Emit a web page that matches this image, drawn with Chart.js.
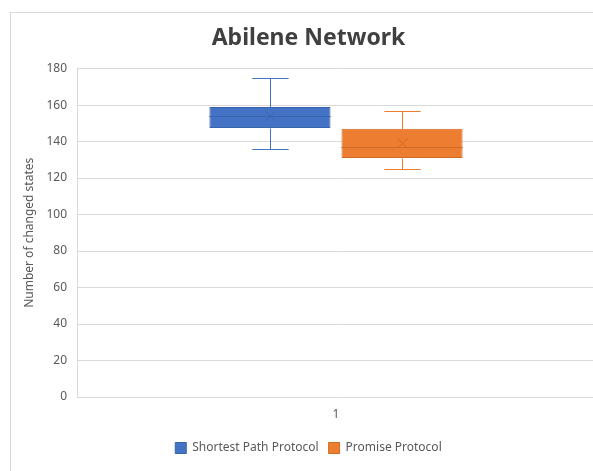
<!DOCTYPE html>
<html lang="en">
<head>
<meta charset="UTF-8">
<title>Abilene Network</title>
<script src="https://cdn.jsdelivr.net/npm/chart.js"></script>
<style>
    body {
        margin: 0;
        background: #fff;
        width: 593px;
        height: 471px;
        overflow: hidden;
        position: relative;
    }
    .frame {
        position: absolute;
        left: 10px;
        top: 12px;
        width: 595px;
        height: 470px;
        border: 1px solid #d9d9d9;
    }
</style>
</head>
<body>
<div class="frame">
    <canvas id="boxChart" width="595" height="460"></canvas>
</div>
<script>
    // box plot values, one entry per series
    const categories = ['1'];
    const seriesNames = ['Shortest Path Protocol', 'Promise Protocol'];
    const whiskerLow = [136, 125];
    const quartile1 = [147.5, 131];
    const medians = [154, 137];
    const quartile3 = [159, 147];
    const whiskerHigh = [175, 157];
    const means = [154, 139];

    const fills = ['#4472C4', '#ED7D31'];
    const edges = ['#3A63AE', '#D06A27'];

    // whiskers, median and mean marker on top of the floating bars
    const boxPlotExtras = {
        id: 'boxPlotExtras',
        afterDatasetsDraw(chart) {
            const ctx = chart.ctx;
            const y = chart.scales.y;
            chart.data.datasets.forEach((ds, i) => {
                const meta = chart.getDatasetMeta(i);
                if (meta.hidden) return;
                meta.data.forEach(bar => {
                    const cx = Math.round(bar.x) + 0.5;
                    const half = bar.width / 2;
                    const cap = bar.width * 0.15;
                    const px = v => Math.round(y.getPixelForValue(v)) + 0.5;
                    const yLo = px(whiskerLow[i]);
                    const yHi = px(whiskerHigh[i]);
                    const yQ1 = px(quartile1[i]);
                    const yQ3 = px(quartile3[i]);
                    const yMed = px(medians[i]);
                    const yMean = y.getPixelForValue(means[i]);

                    ctx.save();
                    ctx.lineWidth = 1;
                    ctx.strokeStyle = fills[i];
                    ctx.beginPath();
                    ctx.moveTo(cx, yQ3); ctx.lineTo(cx, yHi);
                    ctx.moveTo(cx - cap, yHi); ctx.lineTo(cx + cap, yHi);
                    ctx.moveTo(cx, yQ1); ctx.lineTo(cx, yLo);
                    ctx.moveTo(cx - cap, yLo); ctx.lineTo(cx + cap, yLo);
                    ctx.stroke();

                    ctx.strokeStyle = edges[i];
                    ctx.beginPath();
                    ctx.moveTo(bar.x - half, yMed); ctx.lineTo(bar.x + half, yMed);
                    ctx.stroke();

                    const m = 5;
                    ctx.beginPath();
                    ctx.moveTo(cx - m, yMean - m); ctx.lineTo(cx + m, yMean + m);
                    ctx.moveTo(cx - m, yMean + m); ctx.lineTo(cx + m, yMean - m);
                    ctx.stroke();
                    ctx.restore();
                });
            });
        }
    };

    const datasets = seriesNames.map((name, i) => ({
        label: name,
        data: categories.map(() => [quartile1[i], quartile3[i]]),
        backgroundColor: fills[i],
        borderColor: edges[i],
        borderWidth: 1,
        borderSkipped: false,
        barPercentage: 0.917,
        categoryPercentage: 0.51
    }));

    const ctx = document.getElementById('boxChart').getContext('2d');
    new Chart(ctx, {
        type: 'bar',
        data: {
            labels: categories,
            datasets: datasets
        },
        options: {
            responsive: false,
            animation: false,
            layout: {
                padding: { left: 0, right: 0, top: 0, bottom: 9 }
            },
            plugins: {
                title: {
                    display: true,
                    text: 'Abilene Network',
                    color: '#404040',
                    font: { family: 'Noto Sans', size: 23, weight: 'bold' },
                    padding: { top: 12, bottom: 16 }
                },
                legend: {
                    position: 'bottom',
                    labels: {
                        color: '#595959',
                        font: { family: 'Noto Sans', size: 12 },
                        boxWidth: 11,
                        boxHeight: 11,
                        padding: 10
                    }
                },
                tooltip: { enabled: false }
            },
            scales: {
                x: {
                    grid: { display: false, drawTicks: false },
                    border: { display: true, color: '#D9D9D9' },
                    ticks: {
                        color: '#595959',
                        font: { family: 'Noto Sans', size: 12 },
                        padding: 10
                    },
                    afterFit: scale => { scale.height = 35; }
                },
                y: {
                    min: 0,
                    max: 180,
                    ticks: {
                        stepSize: 20,
                        color: '#595959',
                        font: { family: 'Noto Sans', size: 12 },
                        padding: 10
                    },
                    grid: { color: '#D9D9D9', drawTicks: false },
                    border: { display: true, color: '#D9D9D9' },
                    title: {
                        display: true,
                        text: 'Number of changed states',
                        color: '#595959',
                        font: { family: 'Noto Sans', size: 12 },
                        padding: { top: 11, bottom: 0 }
                    },
                    afterFit: scale => { scale.width = 66; }
                },
                // empty strip on the right so title and legend stay centred on the frame
                yRight: {
                    position: 'right',
                    min: 0,
                    max: 180,
                    grid: { display: false },
                    border: { display: false },
                    ticks: { display: false },
                    afterFit: scale => { scale.width = 11; }
                }
            }
        },
        plugins: [boxPlotExtras]
    });
</script>
</body>
</html>
